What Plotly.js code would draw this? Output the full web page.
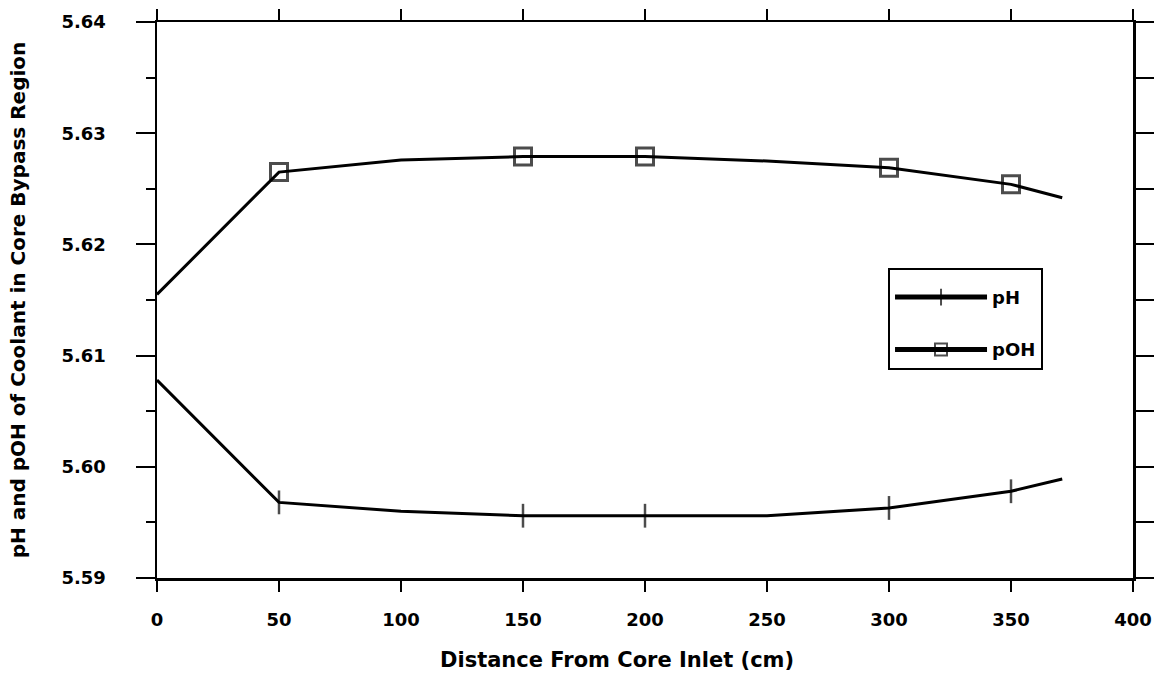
<!DOCTYPE html>
<html>
<head>
<meta charset="utf-8">
<script src="https://cdn.plot.ly/plotly-3.0.1.min.js"></script>
<style>html,body{margin:0;padding:0;background:#fff;}#chart{width:1159px;height:684px;}</style>
</head>
<body>
<div id="chart"></div>
<script>
// Data
const distance = [0, 50, 100, 150, 200, 250, 300, 350, 371];
const pH  = [5.6078, 5.5968, 5.5960, 5.5956, 5.5956, 5.5956, 5.5963, 5.5978, 5.5989];
const pOH = [5.6155, 5.6265, 5.6276, 5.6279, 5.6279, 5.6275, 5.6269, 5.6254, 5.6242];
// which points carry a marker symbol in the original (1 = marked)
const markedPoints = [0, 1, 0, 1, 1, 0, 1, 1, 0];
const xTicks = [0, 50, 100, 150, 200, 250, 300, 350, 400];
const yTicks = [5.59, 5.60, 5.61, 5.62, 5.63, 5.64];
const xTitle = 'Distance From Core Inlet (cm)';
const yTitle = 'pH and pOH of Coolant in Core Bypass Region';

const FONT = "DejaVu Sans, Liberation Sans, Arial, sans-serif";
const markerSizes = markedPoints.map(m => m ? 17 : 0);

const traces = [
  {
    x: distance, y: pH, name: 'pH', type: 'scatter', mode: 'lines+markers',
    legendgroup: 'a',
    line: {color: '#000', width: 3},
    marker: {symbol: 'line-ns-open', size: markerSizes, color: '#000', line: {width: 2.5, color: '#000'}}
  },
  {
    x: distance, y: pOH, name: 'pOH', type: 'scatter', mode: 'lines+markers',
    legendgroup: 'b',
    line: {color: '#000', width: 3},
    marker: {symbol: 'square-open', size: markerSizes, color: '#000', line: {width: 3, color: '#000'}}
  },
  {
    x: distance, y: pOH, yaxis: 'y2', type: 'scatter', mode: 'lines',
    opacity: 0, showlegend: false, hoverinfo: 'skip', line: {color: '#000', width: 0.1}
  }
];

const layout = {
  width: 1159, height: 684,
  margin: {l: 157, r: 26, t: 22, b: 106},
  paper_bgcolor: '#fff', plot_bgcolor: '#fff',
  font: {family: FONT, color: '#000', size: 18, weight: 'bold'},
  showlegend: true,
  legend: {
    x: 0.749, y: 0.558, xanchor: 'left', yanchor: 'top',
    bgcolor: '#fff', bordercolor: '#000', borderwidth: 2,
    font: {family: FONT, size: 18, color: '#000', weight: 'bold'},
    title: {text: ' ', font: {size: 7}},
    itemwidth: 92, itemsizing: 'constant', tracegroupgap: 26, traceorder: 'grouped'
  },
  annotations: [{
    text: xTitle, xref: 'paper', yref: 'paper', x: 0.471, y: -0.147,
    xanchor: 'center', yanchor: 'middle', showarrow: false,
    font: {family: FONT, size: 21, color: '#000', weight: 'bold'}
  }],
  xaxis: {
    range: [0, 400], tickvals: xTicks, ticktext: xTicks.map(String),
    showgrid: false, zeroline: false,
    showline: true, linecolor: '#000', linewidth: 2.5, mirror: 'ticks',
    ticks: 'outside', ticklen: 11, tickwidth: 2, tickcolor: '#000',
    ticklabelstandoff: 13,
    tickfont: {family: FONT, size: 18, color: '#000', weight: 'bold'}
  },
  yaxis: {
    range: [5.59, 5.64], tickvals: yTicks, ticktext: yTicks.map(v => v.toFixed(2)),
    showgrid: false, zeroline: false,
    showline: true, linecolor: '#000', linewidth: 2.5, mirror: true,
    ticks: 'outside', ticklen: 19, tickwidth: 2, tickcolor: '#000',
    ticklabelstandoff: 26,
    minor: {dtick: 0.005, tick0: 5.59, ticks: 'outside', ticklen: 9, tickwidth: 2, tickcolor: '#000', showgrid: false},
    tickfont: {family: FONT, size: 18, color: '#000', weight: 'bold'},
    title: {text: yTitle, standoff: 31,
            font: {family: FONT, size: 20, color: '#000', weight: 'bold'}}
  },
  yaxis2: {
    overlaying: 'y', side: 'right', range: [5.59, 5.64],
    dtick: 0.005, tick0: 5.59, showticklabels: false,
    showgrid: false, zeroline: false, showline: false,
    ticks: 'outside', ticklen: 20, tickwidth: 2, tickcolor: '#000'
  }
};

Plotly.newPlot('chart', traces, layout, {displayModeBar: false, staticPlot: true});
</script>
</body>
</html>
